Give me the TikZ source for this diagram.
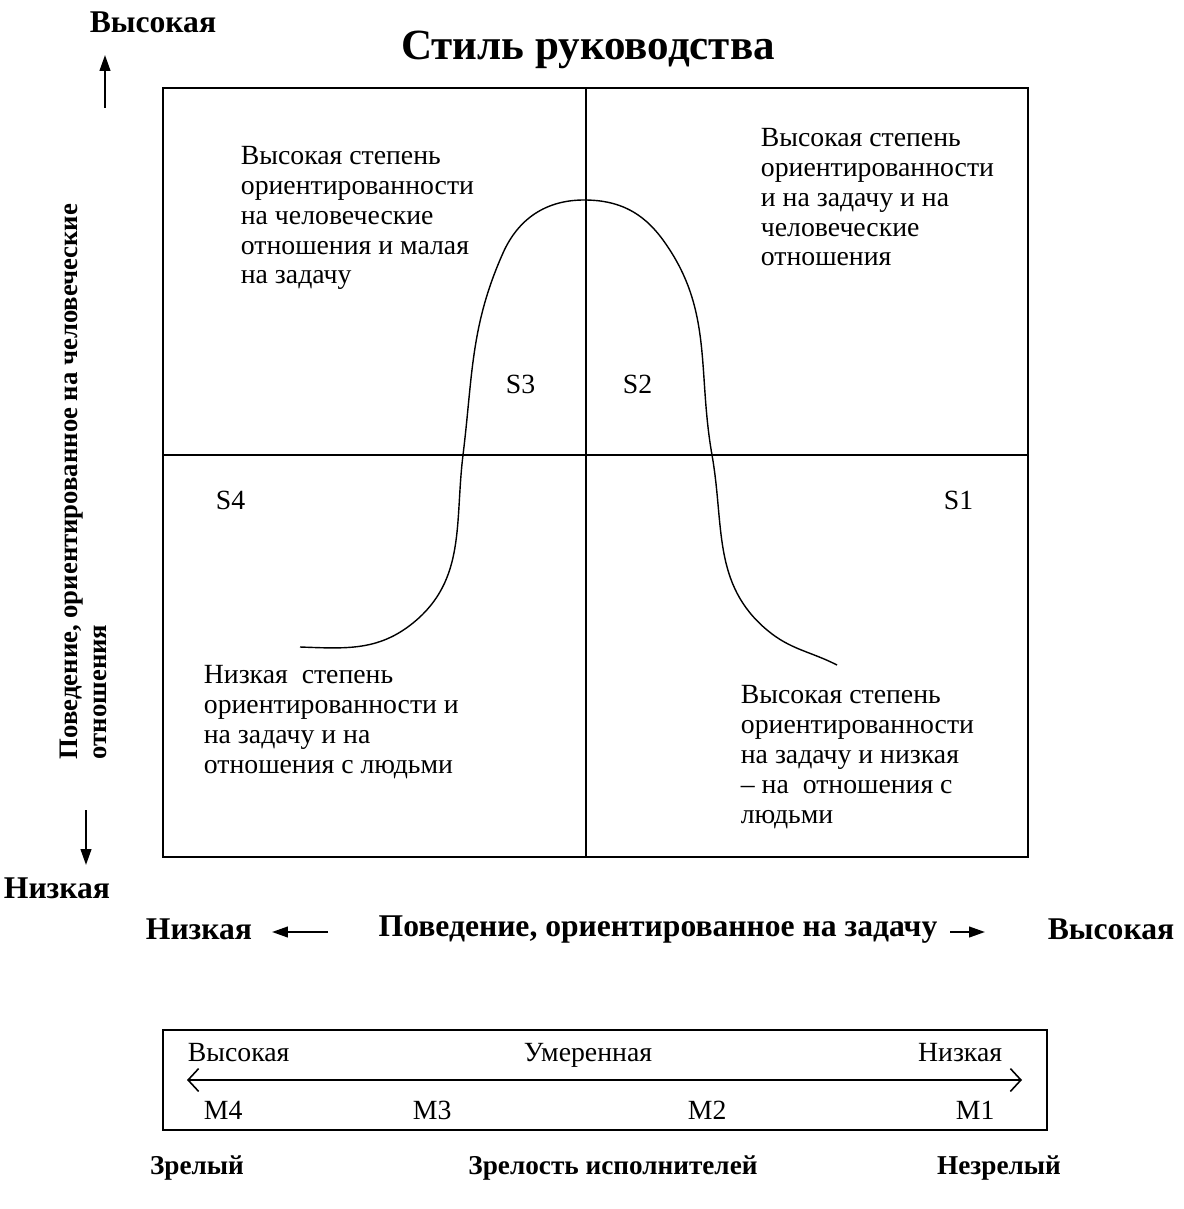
\documentclass[tikz,border=0pt]{standalone}
\usepackage{fontspec}
\setmainfont{Liberation Serif}
\usetikzlibrary{positioning,arrows.meta}

\begin{document}
\begin{tikzpicture}[x=0.02cm,y=-0.02cm,line width=1pt,
  txt/.style={align=left,inner sep=0pt,font=\fontsize{15.8}{17}\selectfont},
  bld/.style={inner sep=0pt,font=\fontsize{18}{20}\selectfont\bfseries},
  sbld/.style={inner sep=0pt,font=\fontsize{15.5}{18}\selectfont\bfseries},
  axis/.style={-{Triangle[length=9pt,width=6pt]},line width=1.2pt}]
\useasboundingbox (0,0) rectangle (1183,1209);
\node[inner sep=0pt,font=\fontsize{24.5}{28}\selectfont\bfseries] (title) at (588,50) {Стиль руководства};
% grid
\draw (163,88) rectangle (1028,857);
\draw (586,88) -- (586,857);
\draw (163,455) -- (1028,455);
\draw[line width=0.8pt] (300,647) to[out=-2,in=219] (413,623) to[out=39,in=263] (463,455)
  to[out=83,in=246] (503,253) to[out=66,in=180] (584,200) to[out=0,in=126] (663,240)
  to[out=-54,in=100] (712,455) to[out=-80,in=140] (767,630) to[out=-40,in=153] (837,665);
% quadrants
\node[txt,anchor=base west] (q3) at (240,284) {Высокая степень\\ориентированности\\на человеческие\\отношения и малая\\на задачу};
\node[txt,anchor=base west] (q2) at (760,266) {Высокая степень\\ориентированности\\и на задачу и на\\человеческие\\отношения};
\node[txt,anchor=base west] (q4) at (203,773) {Низкая\ \ степень\\ориентированности и\\на задачу и на\\отношения с людьми};
\node[txt,anchor=base west] (q1) at (740,823) {Высокая степень\\ориентированности\\на задачу и низкая\\– на\ \ отношения с\\людьми};
\node[txt,anchor=base west] (s3) at (505,393) {S3};
\node[txt,anchor=base west] (s2) at (622,393) {S2};
\node[txt,anchor=base west] (s4) at (215,509) {S4};
\node[txt,anchor=base west] (s1) at (943,509) {S1};
% vertical axis
\node[bld] (vhi) at (153,22) {Высокая};
\node[bld] (vlo) at (57,888) {Низкая};
\node[inner sep=0pt,font=\fontsize{15.2}{16.6}\selectfont\bfseries,rotate=90,align=left,anchor=north west] (vax) at (59,760) {Поведение, ориентированное на человеческие\\отношения};
\coordinate (u1) at (105,108);
\coordinate (u2) at (105,55);
\coordinate (d1) at (86,810);
\coordinate (d2) at (86,865);
\draw[axis] (u1) -- (u2);
\draw[axis] (d1) -- (d2);
% horizontal axis
\node[bld] (hlo) at (199,929) {Низкая};
\node[bld] (hax) at (658,930) {Поведение, ориентированное на задачу};
\node[bld] (hhi) at (1111,929) {Высокая};
\coordinate (l1) at (328,932);
\coordinate (l2) at (272,932);
\coordinate (r1) at (950,932);
\coordinate (r2) at (985,932);
\draw[axis] (l1) -- (l2);
\draw[axis] (r1) -- (r2);
% maturity scale
\node[draw,minimum width=884*0.02cm,minimum height=100*0.02cm,inner sep=0pt] (scale) at (605,1080) {};
\coordinate (m1) at (187,1080);
\coordinate (m2) at (1022,1080);
\draw[{Straight Barb[length=6pt,width=13pt]}-{Straight Barb[length=6pt,width=13pt]},line width=0.9pt] (m1) -- (m2);
\node[txt,anchor=base west] (mhi) at (187,1061) {Высокая};
\node[txt,anchor=base] (mmid) at (588,1061) {Умеренная};
\node[txt,anchor=base east] (mlo) at (1003,1061) {Низкая};
\node[txt,anchor=base west] (M4) at (203,1119) {M4};
\node[txt,anchor=base west] (M3) at (412,1119) {M3};
\node[txt,anchor=base west] (M2) at (687,1119) {M2};
\node[txt,anchor=base west] (M1) at (955,1119) {M1};
\node[sbld] (ripe) at (197,1168) {Зрелый};
\node[sbld] (mat) at (613,1168) {Зрелость исполнителей};
\node[sbld] (raw) at (999,1168) {Незрелый};
\end{tikzpicture}
\end{document}
